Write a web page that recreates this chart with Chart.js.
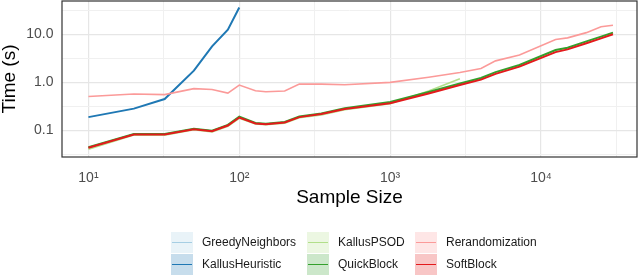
<!DOCTYPE html>
<html>
<head>
<meta charset="utf-8">
<script src="https://cdn.jsdelivr.net/npm/chart.js@4.4.0/dist/chart.umd.min.js"></script>
<style>
  html, body { margin: 0; padding: 0; background: #fff; }
  #wrap { position: relative; width: 640px; height: 279px; }
  #legend { position: absolute; left: 0; top: 0; width: 640px; height: 279px; pointer-events: none;
            font-family: "Liberation Sans", Arial, sans-serif; font-size: 12px; color: #1a1a1a; }
  .item { position: absolute; height: 21px; }
  .key { position: absolute; left: 0; top: 0; width: 22px; height: 21px; }
  .key span { position: absolute; left: 1px; right: 1px; top: 10px; height: 1.4px; }
  .lab { position: absolute; left: 31px; top: 3px; white-space: nowrap; }
</style>
</head>
<body>
<div id="wrap">
  <canvas id="chart" width="640" height="279"></canvas>
  <div id="legend"></div>
</div>
<script>
// Sample sizes (x) and times in seconds (y); null = not run at that size
const sampleSizes = [10, 20, 32, 50, 66, 84, 100, 128, 150, 200, 250, 350, 500, 1000, 1800, 2900, 4000, 5000, 7200, 12500, 15000, 20000, 25000, 30000];

const greedyNeighbors = [0.044, 0.084, 0.084, 0.107, 0.098, 0.128, 0.19, 0.142, 0.136, 0.148, null, null, null, null, null, null, null, null, null, null, null, null, null, null];
const kallusHeuristic = [0.19, 0.285, 0.45, 1.75, 5.6, 12.4, 36, null, null, null, null, null, null, null, null, null, null, null, null, null, null, null, null, null];
const kallusPSOD = [0.041, 0.081, 0.08, 0.104, 0.094, 0.122, 0.18, 0.137, 0.132, 0.142, 0.185, 0.21, 0.27, 0.36, 0.66, 1.19, null, null, null, null, null, null, null, null];
const quickBlock = [0.045, 0.085, 0.085, 0.109, 0.099, 0.131, 0.195, 0.143, 0.138, 0.151, 0.195, 0.225, 0.29, 0.39, 0.63, 0.95, 1.23, 1.63, 2.3, 4.7, 5.25, 7.1, 8.9, 10.8];
const rerandomization = [0.51, 0.575, 0.556, 0.74, 0.71, 0.6, 0.88, 0.67, 0.64, 0.66, 0.92, 0.92, 0.89, 1.0, 1.28, 1.6, 1.95, 2.8, 3.7, 7.8, 8.4, 10.8, 14.3, 15.4];
const softBlock = [0.044, 0.083, 0.083, 0.106, 0.097, 0.127, 0.186, 0.14, 0.135, 0.147, 0.19, 0.22, 0.28, 0.37, 0.59, 0.88, 1.14, 1.5, 2.12, 4.25, 4.85, 6.5, 8.2, 10.0];

const seriesNames = ['GreedyNeighbors', 'KallusHeuristic', 'KallusPSOD', 'QuickBlock', 'Rerandomization', 'SoftBlock'];
const seriesValues = [greedyNeighbors, kallusHeuristic, kallusPSOD, quickBlock, rerandomization, softBlock];
const seriesColors = ['#a6cee3', '#1f78b4', '#b2df8a', '#33a02c', '#fb9a99', '#e31a1c'];
const keyFills = ['#e9f3f8', '#c7ddec', '#ecf7e2', '#cce7ca', '#fee6e6', '#f8c6c6'];

const xTickLabels = { 1: '10\u00b9', 2: '10\u00b2', 3: '10\u00b3', 4: '10\u2074' };
const yTickLabels = { '-1': '0.1', '0': '1.0', '1': '10.0' };

const FONT = '"Liberation Sans", Arial, Helvetica, sans-serif';

function halfDecades(lo, hi) {
    const out = [];
    for (let k = Math.ceil(Math.log10(lo) * 2); k / 2 <= Math.log10(hi); k++) {
        out.push({ value: Math.pow(10, k / 2) });
    }
    return out;
}

function isMajor(v) {
    const l = Math.log10(v);
    return Math.abs(l - Math.round(l)) < 1e-6;
}

const datasets = seriesNames.map((name, i) => ({
    label: name,
    data: sampleSizes.map((x, j) => ({ x: x, y: seriesValues[i][j] })).filter(p => p.y !== null),
    borderColor: seriesColors[i],
    backgroundColor: seriesColors[i],
    borderWidth: (i === 1 || i === 3 || i === 5) ? 2 : 1.6,
    pointRadius: 0,
    tension: 0,
    order: seriesNames.length - i
}));

// ggplot-style full panel border
const panelBorder = {
    id: 'panelBorder',
    afterDraw(chart) {
        const a = chart.chartArea;
        const ctx = chart.ctx;
        ctx.save();
        ctx.strokeStyle = '#333333';
        ctx.lineWidth = 1.2;
        ctx.strokeRect(a.left, a.top, a.right - a.left, a.bottom - a.top);
        ctx.restore();
    }
};

const gridColor = ctx => isMajor(ctx.tick.value) ? '#e6e6e6' : '#f0f0f0';
const gridWidth = ctx => isMajor(ctx.tick.value) ? 1.2 : 1;

new Chart(document.getElementById('chart').getContext('2d'), {
    type: 'line',
    data: { datasets: datasets },
    options: {
        responsive: false,
        animation: false,
        layout: { padding: { top: 1, right: 3, bottom: 70, left: 0 } },
        plugins: {
            legend: { display: false },
            tooltip: { enabled: false }
        },
        scales: {
            x: {
                type: 'logarithmic',
                min: 6.68,
                max: 43300,
                afterBuildTicks: s => { s.ticks = halfDecades(s.min, s.max); },
                afterFit: s => { s.height = 52; s.paddingLeft = 0; s.paddingRight = 0; },
                border: { display: false },
                grid: { color: gridColor, lineWidth: gridWidth, drawTicks: false },
                ticks: {
                    autoSkip: false,
                    maxRotation: 0,
                    padding: 13,
                    color: '#4d4d4d',
                    font: { family: FONT, size: 14 },
                    callback: v => isMajor(v) ? xTickLabels[Math.round(Math.log10(v))] : ''
                },
                title: {
                    display: true,
                    text: 'Sample Size',
                    color: '#000',
                    font: { family: FONT, size: 19, lineHeight: 1 },
                    padding: { top: 0, bottom: 1.5 }
                }
            },
            y: {
                type: 'logarithmic',
                min: 0.0282,
                max: 49,
                afterBuildTicks: s => { s.ticks = halfDecades(s.min, s.max); },
                afterFit: s => { s.width = 62; s.paddingTop = 0; s.paddingBottom = 0; },
                border: { display: false },
                grid: { color: gridColor, lineWidth: gridWidth, drawTicks: false },
                ticks: {
                    autoSkip: false,
                    padding: 8.5,
                    color: '#4d4d4d',
                    font: { family: FONT, size: 14 },
                    callback: v => isMajor(v) ? yTickLabels[String(Math.round(Math.log10(v)))] : ''
                },
                title: {
                    display: true,
                    text: 'Time (s)',
                    color: '#000',
                    font: { family: FONT, size: 19, lineHeight: 1 },
                    padding: { top: 0, bottom: 0 }
                }
            }
        }
    },
    plugins: [panelBorder]
});

// Legend: 2 rows x 3 columns below the panel
const legendCols = [171, 307, 415];
const legendRows = [232, 254];
const legendEl = document.getElementById('legend');
seriesNames.forEach((name, i) => {
    const col = Math.floor(i / 2), row = i % 2;
    const item = document.createElement('div');
    item.className = 'item';
    item.style.left = legendCols[col] + 'px';
    item.style.top = legendRows[row] + 'px';
    item.innerHTML = '<div class="key" style="background:' + keyFills[i] + '"><span style="background:' +
        seriesColors[i] + '"></span></div><div class="lab">' + name + '</div>';
    legendEl.appendChild(item);
});
</script>
</body>
</html>
